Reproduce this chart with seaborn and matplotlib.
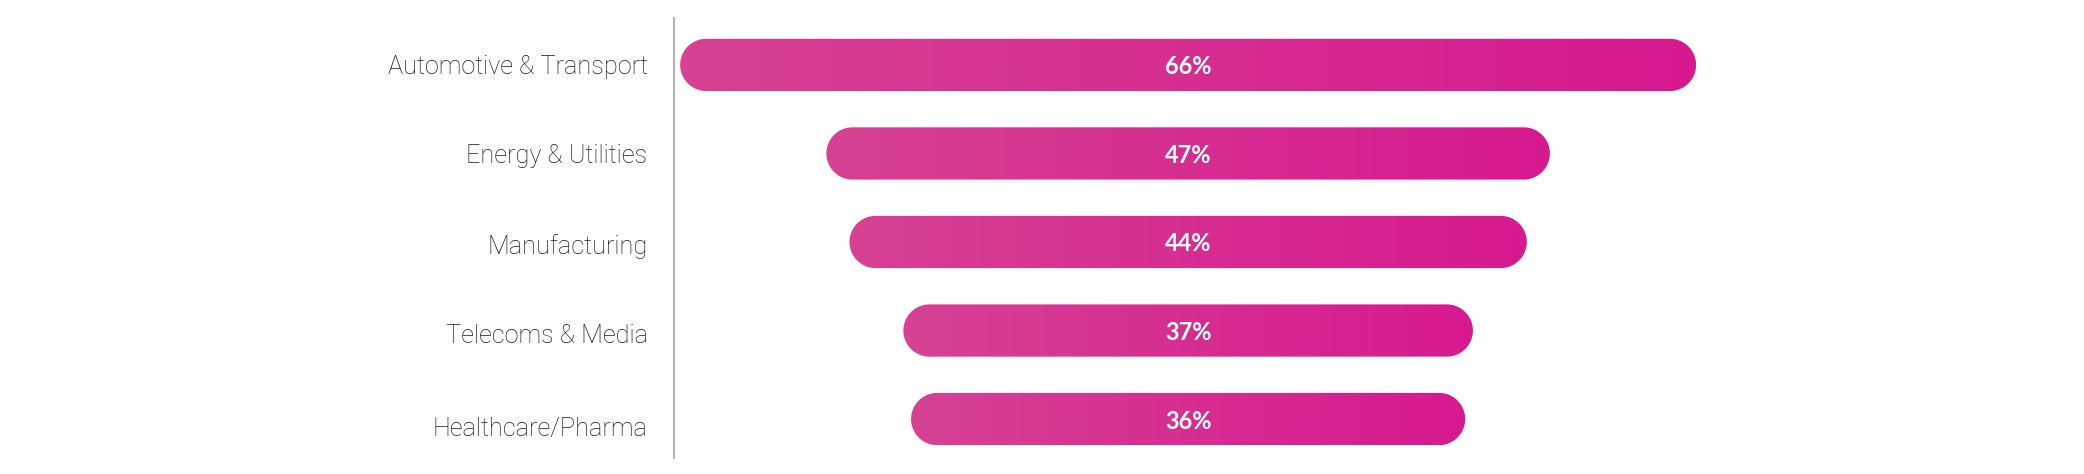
import numpy as np
import matplotlib
matplotlib.use("Agg")
import matplotlib.pyplot as plt
import seaborn as sns
from matplotlib.patches import Polygon
from matplotlib.colors import LinearSegmentedColormap
from matplotlib.transforms import ScaledTranslation

# data
sectors = ["Automotive & Transport", "Energy & Utilities", "Manufacturing",
           "Telecoms & Media", "Healthcare/Pharma"]
shares = [66, 47, 44, 37, 36]
share_labels = ["66%", "47%", "44%", "37%", "36%"]

sns.set_style("white")
plt.rcParams["font.family"] = ["Roboto", "DejaVu Sans"]

fig = plt.figure(figsize=(20.84, 4.74), dpi=100)
ax = fig.add_axes([674 / 2084, 16 / 474, 1 - 674 / 2084, 440 / 474])

sns.barplot(x=shares, y=sectors, orient="h", width=0.59, color="#d62d91", ax=ax)

mid = 33.4  # bars are centred on this x
ax.set_xlim(0, 91.6)
ax.set_ylim(4.44, -0.53)

# pink gradient, lighter on the left
pink = LinearSegmentedColormap.from_list("pink", ["#d74294", "#d6198f"])
grad = np.linspace(0, 1, 256).reshape(1, -1)

fig.canvas.draw()
p = ax.transData.transform([(0, 0), (1, 1)])
xpx = abs(p[1, 0] - p[0, 0])
ypx = abs(p[1, 1] - p[0, 1])

t = np.linspace(-np.pi / 2, np.pi / 2, 60)

# swap each seaborn bar for a centred capsule filled with the gradient
for bar, lab in zip(list(ax.patches), share_labels):
    w, h, y0 = bar.get_width(), bar.get_height(), bar.get_y()
    bar.set_visible(False)
    yc = y0 + h / 2
    ry = h / 2
    rx = ry * ypx / xpx  # same radius in pixels
    x0, x1 = mid - w / 2, mid + w / 2
    right = np.column_stack([x1 - rx + rx * np.cos(t), yc + ry * np.sin(t)])
    left = np.column_stack([x0 + rx - rx * np.cos(t), yc - ry * np.sin(t)])
    capsule = Polygon(np.vstack([right, left]), closed=True,
                      facecolor="none", edgecolor="none")
    ax.add_patch(capsule)
    im = ax.imshow(grad, cmap=pink, extent=(x0, x1, y0 + h, y0),
                   aspect="auto", interpolation="bicubic", zorder=2)
    im.set_clip_path(capsule)
    ax.text(mid, yc, lab, ha="center", va="center_baseline", color="white",
            fontsize=17, fontweight="bold", family=["Lato", "DejaVu Sans"],
            zorder=3)

ax.set_xlim(0, 91.6)
ax.set_ylim(4.44, -0.53)

sns.despine(ax=ax, left=False, bottom=True)
ax.spines["left"].set_color("#b3b3b3")
ax.spines["left"].set_linewidth(1.5)
ax.set_xticks([])
ax.set_xlabel("")
ax.set_ylabel("")
ax.tick_params(axis="y", length=0, pad=19)

# labels drift slightly lower than the bars going down
nudge = [0, 0.5, 2, 2.5, 7]
for tl, dy in zip(ax.get_yticklabels(), nudge):
    tl.set_fontsize(18.2)
    tl.set_fontweight("light")
    tl.set_color("#1a1a1a")
    tl.set_transform(tl.get_transform() +
                     ScaledTranslation(0, -dy / 100, fig.dpi_scale_trans))

fig.savefig("out.png", dpi=100)
